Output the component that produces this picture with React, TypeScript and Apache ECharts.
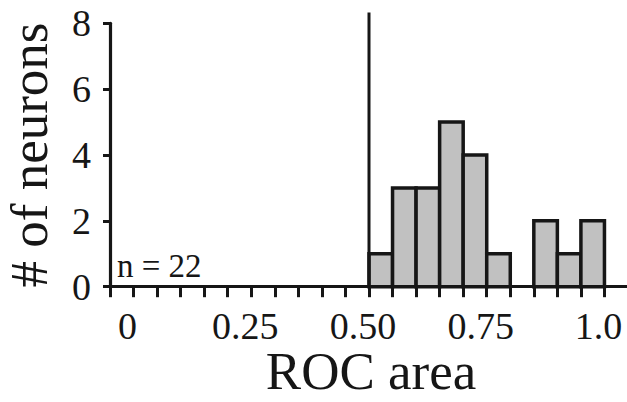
import React, { useEffect, useRef } from "react";
import * as echarts from "echarts";

const binStarts = [0.5, 0.55, 0.6, 0.65, 0.7, 0.75, 0.85, 0.9, 0.95];
const binEnds = [0.55, 0.6, 0.65, 0.7, 0.75, 0.8, 0.9, 0.95, 1.0];
const counts = [1, 3, 3, 5, 4, 1, 2, 1, 2];
const xTickValues = [-0.05, 0, 0.05, 0.1, 0.15, 0.2, 0.25, 0.3, 0.35, 0.4, 0.45, 0.5, 0.55, 0.6, 0.65, 0.7, 0.75, 0.8, 0.85, 0.9, 0.95, 1.0];
const xLabelValues = [0, 0.25, 0.5, 0.75, 1.0];
const xLabelTexts = ["0", "0.25", "0.50", "0.75", "1.0"];
const yTickValues = [0, 2, 4, 6, 8];
const criterionLine = [[0.5, 0], [0.5, 8.33]];
const nText = "n = 22";

const FONT = "'Liberation Serif', 'Times New Roman', serif";
const INK = "#161616";

export default function App() {
  const ref = useRef<HTMLDivElement>(null);
  useEffect(() => {
    if (!ref.current) return;
    const chart = echarts.init(ref.current, null, { renderer: "svg" });
    const histData = binStarts.map((s, i) => [s, binEnds[i], counts[i]]);
    chart.setOption({
      animation: false,
      backgroundColor: "#ffffff",
      grid: { left: 110, right: -1, top: 23.3, bottom: 115.3, containLabel: false, outerBoundsMode: "none" },
      xAxis: {
        type: "value",
        min: -0.05,
        max: 1.05,
        name: "ROC area",
        nameLocation: "middle",
        nameGap: 64,
        nameMoveOverlap: false,
        nameTextStyle: { fontFamily: FONT, fontSize: 53, color: INK, lineHeight: 40, padding: [0, 0, 0, 4] },
        splitLine: { show: false },
        axisLine: { show: true, onZero: false, lineStyle: { color: INK, width: 3 } },
        axisTick: {
          show: true,
          inside: false,
          length: 10.5,
          customValues: xTickValues,
          lineStyle: { color: INK, width: 3 },
        },
        axisLabel: {
          customValues: xLabelValues,
          margin: 24,
          lineHeight: 30,
          fontFamily: FONT,
          fontSize: 38,
          color: INK,
          padding: [0, 12, 0, 0],
          formatter: (v: number) => {
            const idx = xLabelValues.findIndex((x) => Math.abs(x - v) < 1e-6);
            return idx >= 0 ? xLabelTexts[idx] : "";
          },
        },
      },
      yAxis: {
        type: "value",
        min: 0,
        max: 8,
        interval: 2,
        position: "left",
        name: "# of neurons",
        nameLocation: "middle",
        nameGap: 59,
        nameRotate: 90,
        nameTextStyle: { fontFamily: FONT, fontSize: 53, color: INK, lineHeight: 44 },
        splitLine: { show: false },
        axisLine: { show: true, onZero: false, lineStyle: { color: INK, width: 3.2 } },
        axisTick: {
          show: true,
          inside: false,
          length: 7,
          customValues: yTickValues,
          lineStyle: { color: INK, width: 3 },
        },
        axisLabel: {
          margin: 19,
          fontFamily: FONT,
          fontSize: 38,
          color: INK,
        },
      },
      graphic: [
        {
          type: "text",
          x: 117,
          y: 265.6,
          style: {
            text: nText,
            fontFamily: FONT,
            fontSize: 33,
            fill: INK,
            verticalAlign: "middle",
            align: "left",
          },
        },
      ],
      series: [
        {
          type: "custom",
          data: histData,
          encode: { x: [0, 1], y: 2 },
          renderItem: (params: any, api: any) => {
            const p0 = api.coord([api.value(0), 0]);
            const p1 = api.coord([api.value(1), api.value(2)]);
            return {
              type: "rect",
              shape: { x: p0[0], y: p1[1], width: p1[0] - p0[0], height: p0[1] - p1[1] },
              style: { fill: "#c1c1c1", stroke: INK, lineWidth: 3.5 },
            };
          },
          z: 3,
        },
        {
          type: "line",
          data: criterionLine,
          symbol: "none",
          clip: false,
          lineStyle: { color: INK, width: 3 },
          z: 4,
        },
      ],
    });
    return () => chart.dispose();
  }, []);
  return (
    <div
      ref={ref}
      style={{ position: "fixed", left: 0, top: 0, width: 627, height: 402 }}
    />
  );
}
